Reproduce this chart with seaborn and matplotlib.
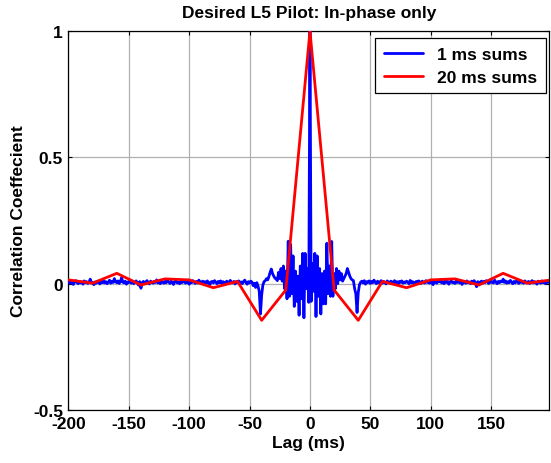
import numpy as np
import pandas as pd
import matplotlib
matplotlib.use("Agg")
import matplotlib.pyplot as plt
import seaborn as sns

# Correlation coefficient (x1000) of 1 ms coherent sums, lag -200 .. 199 ms
left_tail = [
    8, 2, 10, 4, -3, 6, 12, 5, 0, 9, 3, 7, -2, 11, 4, 8, 1, 6, 18, 3,
    5, -4, 7, 2, 10, 6, -1, 9, 4, 12, 3, 8, 0, 6, 14, 2, 9, 5, 20, 7,
    4, 11, 1, 8, 24, 6, 3, 10, -2, 7, 5, 13, 2, 9, 0, 6, 11, 4, -6, 8,
    -18, 3, 9, 1, 7, 12, 4, -1, 10, 6, 2, 9, 5, 15, 3, 8, 0, 11, 6, 2,
    9, 4, 13, 7, 1, 10, 5, -3, 8, 12, 3, 6, 0, 9, 4, 11, 7, 2, 10, 5,
    -2, 8, 4, 12, 6, 1, 9, 3, 14, 7, 0, 10, 5, 8, 2, 11, 4, -4, 7, 9,
    3, 12, 6, 0, 9, 4, 11, 2, 8, 5, -3, 10, 7, 1, 13, 6, 3, 9, -1, 8,
    5, 11, 2, 7, 0, 9, 14, 4, -2, 8, 3, 10, 6, -8, 2, -15, 4, -10,
]
near_left = [-30, -120, -45, -5, 8, 12, 20, 15, 28, 45, 58, 40, 30, 22, 18]
core = [
    12, 45, 20, 60, 10, 70, -20, 50, -60, 168, -50, 155, -40, 110, -90,
    50, -70, 30, -125, 70, -60, 120, -135, 120, -20, 60, -74,
    1000,
    -70, 80, -30, 120, -130, 110, -50, 60, -120, 40, -80, 50, -80, 160,
    -40, 70, -50, 167, -50, 40, -20, 60, 0, 50, 15, 40, 10, 20, 30,
]
near_right = [40, 60, 45, 30, 20, 15, 12, -20, -40, -114, -35, -4]
right_tail = [
    6, 10, 3, 12, -2, 8, 5, 11, 1, 9, 4, 14, 6, 0, 10, 3, 7, 12,
    2, 9, 5, -1, 11, 6, 3, 10, 7, 1, 12, 4, 8, -3, 9, 5, 11, 2, 7, 4,
    10, 6, 0, 13, 3, 8, 5, -2, 9, 4, 11, 7, 1, 10, 6, 3, 12, 5, 8, 2,
    9, 4, -4, 11, 6, 2, 10, 7, 15, 3, 8, 0, 12, 5, 9, -2, 7, 11, 4, 6,
    1, 10, 5, 13, 3, 8, -3, 9, 6, 2, 11, 4, 7, 0, 10, 5, 12, 3, -12, 8,
    -5, 6, 10, 2, 9, 4, 12, 7, 1, 11, 5, 8, 3, 14, 6, 0, 9, 4, 10, 7,
    18, 5, 11, 2, 8, 4, 13, 6, 0, 9, 3, 10, 7, 1, 12, 5, 8, 2, 11, 6,
    4, 9, 1, 7, 12, 3, 8, 5, -2, 10, 6, 2, 11, 4, 9, 0, 7, 5, 10, 3,
]
lags_1ms = np.arange(-200, 200)
corr_1ms = np.array(left_tail + near_left + core + near_right + right_tail) / 1000.0

# 20 ms coherent sums
lags_20ms = np.arange(-200, 201, 20)
corr_20ms = [0.015, 0.002, 0.041, -0.005, 0.019, 0.015, -0.016, 0.009, -0.145, -0.025,
             1.0,
             -0.025, -0.145, 0.009, -0.016, 0.015, 0.019, -0.005, 0.041, 0.002, 0.015]

x_ticks = [-200, -150, -100, -50, 0, 50, 100, 150]
y_ticks = [-0.5, 0, 0.5, 1]
y_tick_labels = ["-0.5", "0", "0.5", "1"]

df1 = pd.DataFrame({"lag": lags_1ms, "corr": corr_1ms})
df20 = pd.DataFrame({"lag": lags_20ms, "corr": corr_20ms})

sns.set_style("ticks")
plt.rcParams["font.family"] = ["Liberation Sans", "DejaVu Sans"]
plt.rcParams["font.weight"] = "bold"
plt.rcParams["axes.unicode_minus"] = False
plt.rcParams["text.color"] = "black"
plt.rcParams["axes.labelcolor"] = "black"
fs = 12.5

fig = plt.figure(figsize=(5.51, 4.64), dpi=100)
ax = fig.add_axes([0.1243, 0.1142, 0.8721, 0.8168])

sns.lineplot(data=df1, x="lag", y="corr", ax=ax, color="#0000ff", lw=2.0,
             label="1 ms sums", zorder=3)
sns.lineplot(data=df20, x="lag", y="corr", ax=ax, color="#ff0000", lw=2.0,
             label="20 ms sums", zorder=4)

ax.set_xlim(-200, 198)
ax.set_ylim(-0.5, 1)
ax.set_xticks(x_ticks)
ax.set_xticklabels([str(v) for v in x_ticks])
ax.set_yticks(y_ticks)
ax.set_yticklabels(y_tick_labels)
ax.grid(True, color="#b0b0b0", lw=0.9, ls="-")
ax.set_axisbelow(True)
for s in ax.spines.values():
    s.set_visible(True)
    s.set_color("black")
    s.set_linewidth(0.9)
ax.tick_params(direction="in", length=3, width=0.8, top=True, right=True,
               labelsize=fs, pad=4, colors="black")
for lbl in ax.get_xticklabels() + ax.get_yticklabels():
    lbl.set_fontweight("bold")

ax.set_title("Desired L5 Pilot: In-phase only", fontsize=fs, fontweight="bold",
             pad=10, color="black")
ax.set_xlabel("Lag (ms)", fontsize=fs, fontweight="bold", labelpad=3)
ax.set_ylabel("Correlation Coeffecient", fontsize=fs, fontweight="bold", labelpad=5)

leg = ax.legend(loc="upper right", bbox_to_anchor=(0.994, 0.982), fontsize=fs,
                frameon=True, fancybox=False, framealpha=1, edgecolor="black",
                handlelength=2.3, borderaxespad=0, borderpad=0.5, labelspacing=0.45)
leg.get_frame().set_linewidth(0.9)
for t in leg.get_texts():
    t.set_fontweight("bold")
    t.set_color("black")

fig.savefig("out.png", dpi=100)
